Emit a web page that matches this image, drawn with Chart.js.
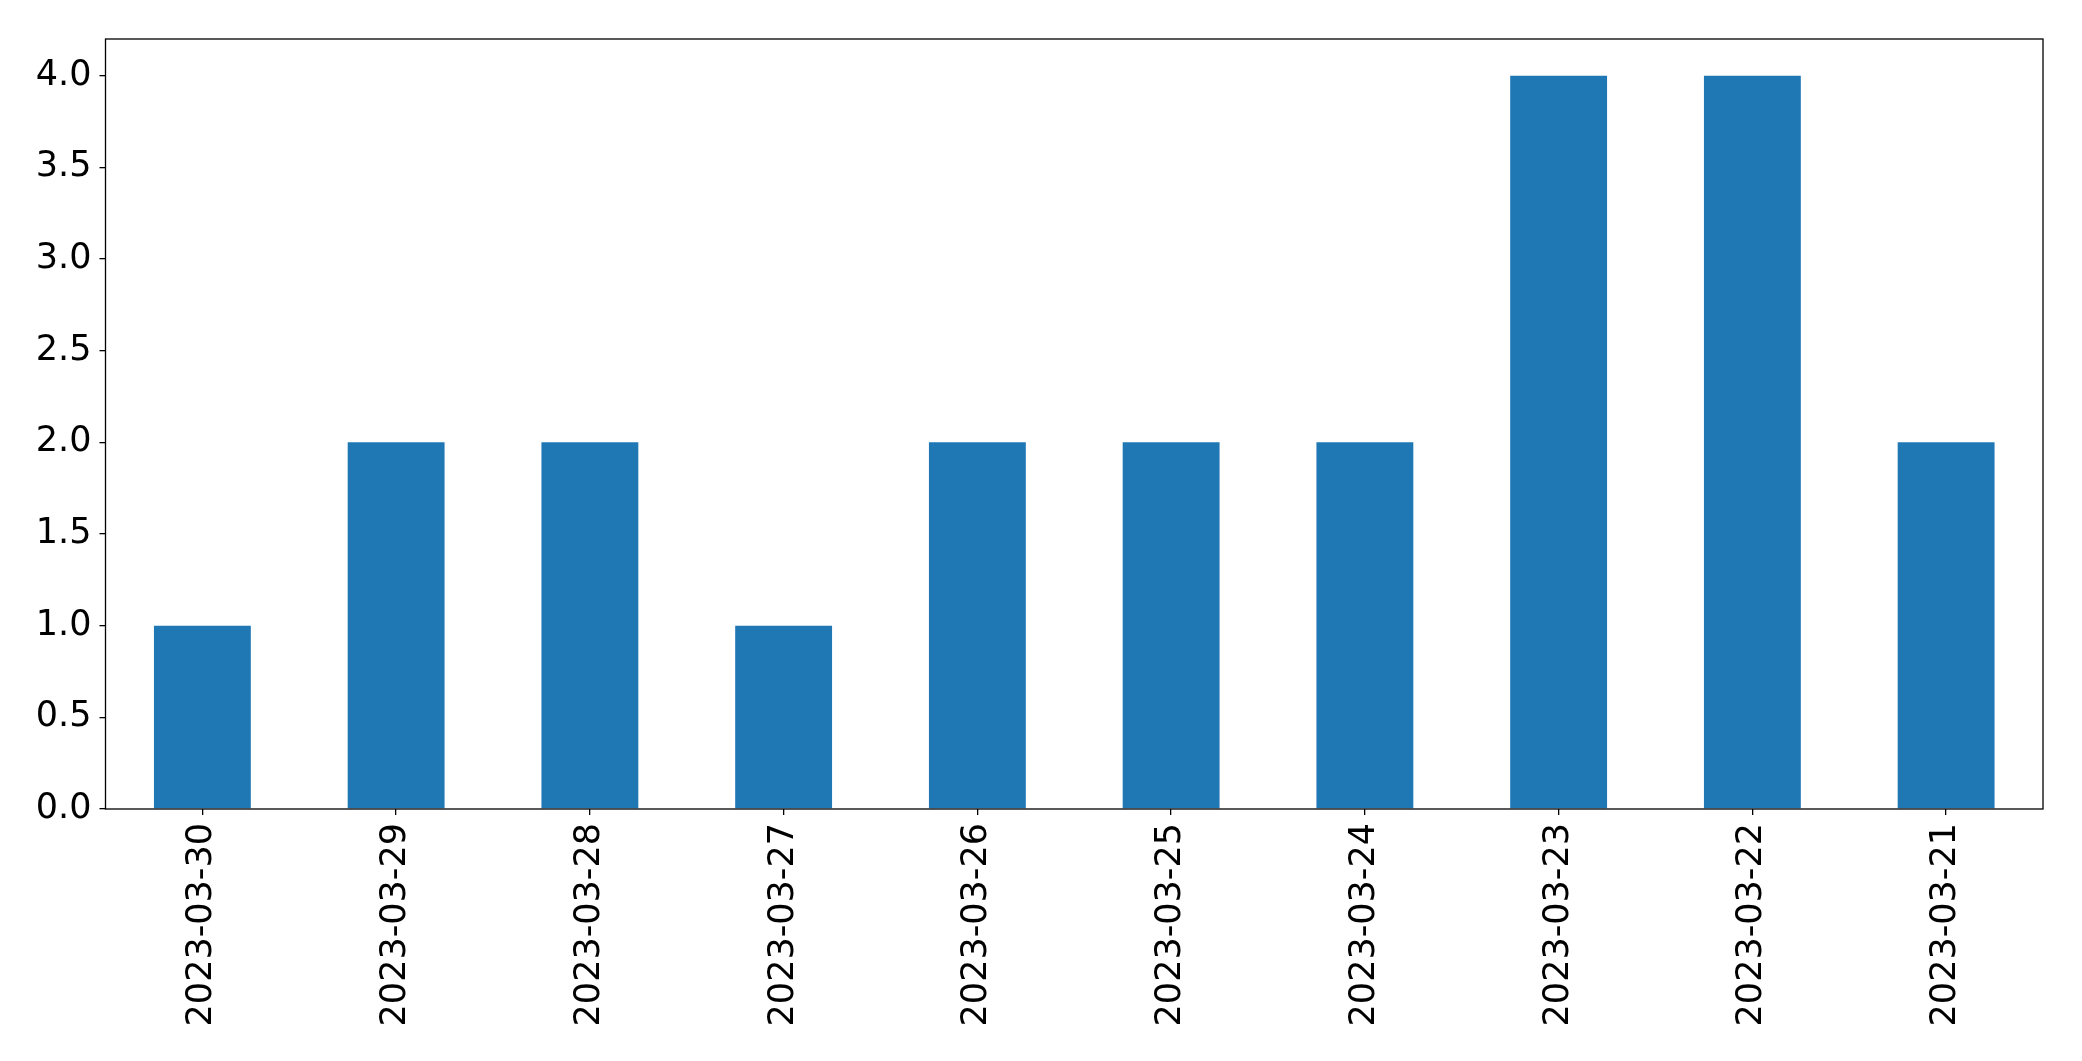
<!DOCTYPE html>
<html>
<head>
<meta charset="utf-8">
<script src="https://cdn.jsdelivr.net/npm/chart.js@4/dist/chart.umd.min.js"></script>
<style>
    html, body { margin: 0; padding: 0; background: #fff; }
    #wrap { width: 2082px; height: 1061px; }
</style>
</head>
<body>
<div id="wrap"><canvas id="countChart" width="2082" height="1061"></canvas></div>
<script>
// Data
const dates = ['2023-03-30', '2023-03-29', '2023-03-28', '2023-03-27', '2023-03-26',
               '2023-03-25', '2023-03-24', '2023-03-23', '2023-03-22', '2023-03-21'];
const counts = [1, 2, 2, 1, 2, 2, 2, 4, 4, 2];
const yTicks = [0, 0.5, 1, 1.5, 2, 2.5, 3, 3.5, 4];

// Draw the full axes box like matplotlib
const frameBox = {
    id: 'frameBox',
    afterDraw(chart) {
        const a = chart.chartArea;
        const ctx = chart.ctx;
        ctx.save();
        ctx.strokeStyle = '#000';
        ctx.lineWidth = 1.3;
        ctx.strokeRect(a.left, a.top, a.right - a.left, a.bottom - a.top);
        ctx.restore();
    }
};

document.addEventListener('DOMContentLoaded', function() {
    const el = document.getElementById('countChart');
    Chart.defaults.font.family = '"DejaVu Sans", sans-serif';
    Chart.defaults.color = '#000';

    new Chart(el, {
        type: 'bar',
        data: {
            labels: dates,
            datasets: [{
                data: counts,
                backgroundColor: '#1f77b4',
                borderWidth: 0,
                categoryPercentage: 0.5,
                barPercentage: 1.0
            }]
        },
        options: {
            responsive: false,
            animation: false,
            layout: { padding: { left: 0, top: 39, right: 39, bottom: 0 } },
            plugins: { legend: { display: false }, tooltip: { enabled: false } },
            scales: {
                x: {
                    offset: true,
                    grid: { display: true, offset: false, drawOnChartArea: false, tickLength: 6, color: '#000', lineWidth: 1.3 },
                    border: { display: false },
                    ticks: { minRotation: 90, maxRotation: 90, padding: 8, font: { size: 35 }, autoSkip: false },
                    afterFit(scale) { scale.height = 252; }
                },
                y: {
                    min: 0,
                    max: 4.2,
                    grid: { display: true, drawOnChartArea: false, tickLength: 6, color: '#000', lineWidth: 1.3 },
                    border: { display: false },
                    ticks: {
                        padding: 8,
                        font: { size: 35 },
                        callback: function(v) { return Number(v).toFixed(1); }
                    },
                    afterBuildTicks(scale) {
                        scale.ticks = yTicks.map(v => ({ value: v }));
                    },
                    afterFit(scale) { scale.width = 105.5; }
                }
            }
        },
        plugins: [frameBox]
    });
});
</script>
</body>
</html>
